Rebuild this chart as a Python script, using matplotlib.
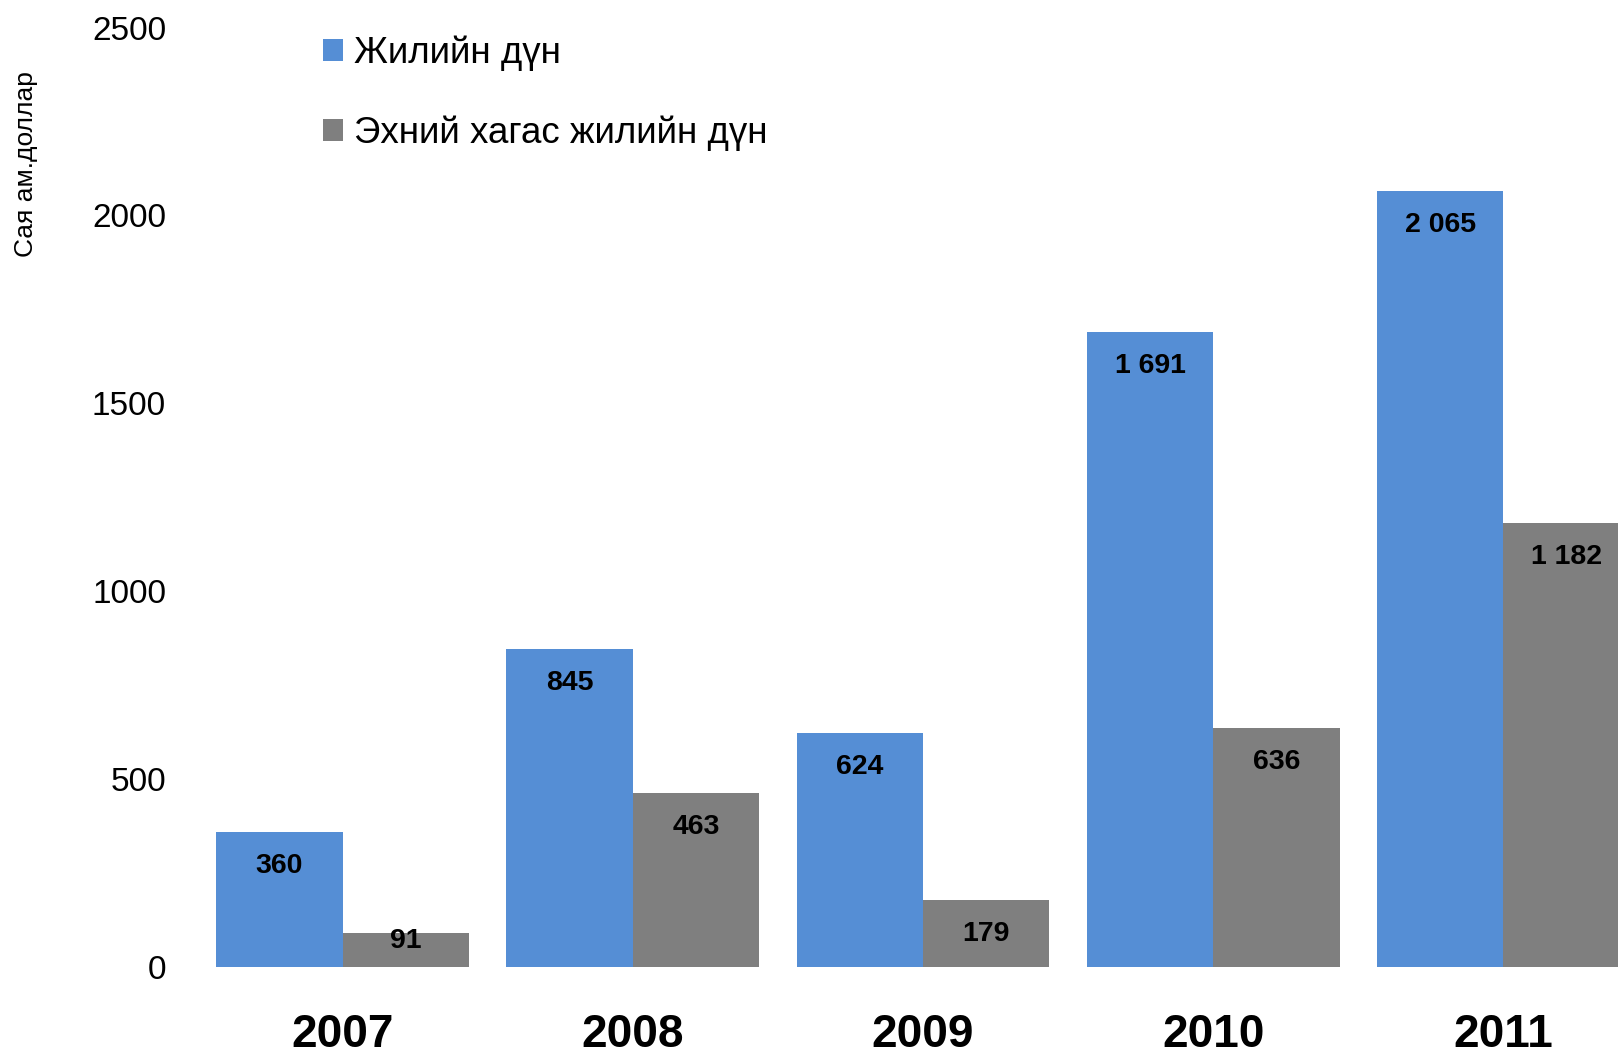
import matplotlib
matplotlib.use("Agg")
import matplotlib.pyplot as plt
from matplotlib import font_manager as fm
import numpy as np

# ---- data ----
years = ["2007", "2008", "2009", "2010", "2011"]
annual = [360, 845, 624, 1691, 2065]
first_half = [91, 463, 179, 636, 1182]
series_names = ["Жилийн дүн", "Эхний хагас жилийн дүн"]
yticks = [0, 500, 1000, 1500, 2000, 2500]
ylabel = "Сая ам.доллар"

def fmt(v):
    return f"{v:,}".replace(",", " ")

names = {f.name for f in fm.fontManager.ttflist}
fam = "Liberation Sans Narrow" if "Liberation Sans Narrow" in names else "Liberation Sans"
plt.rcParams["font.family"] = [fam, "DejaVu Sans"]

W, H = 1618, 1055
fig = plt.figure(figsize=(W / 100, H / 100), dpi=100)

left_px, right_px = 180, 1618
bottom_px, top_px = 967, 27.5
ax = fig.add_axes([left_px / W, 1 - bottom_px / H, (right_px - left_px) / W, (bottom_px - top_px) / H])

group_px = 290.2
center0_px = 342.6
bw = 126.4 / group_px
x = np.arange(len(years))

blue = "#558ED5"
grey = "#7F7F7F"
b1 = ax.bar(x - bw / 2, annual, bw, color=blue, label=series_names[0], zorder=2)
b2 = ax.bar(x + bw / 2, first_half, bw, color=grey, label=series_names[1], zorder=2)

ax.set_xlim((left_px - center0_px) / group_px, (right_px - center0_px) / group_px)
ax.set_ylim(0, 2500)
ax.set_yticks(yticks)
ax.set_yticklabels([str(t) for t in yticks], fontsize=24)
ax.set_xticks(x)
ax.set_xticklabels(years, fontsize=33, fontweight="bold")
ax.tick_params(axis="y", length=0, pad=10)
ax.tick_params(axis="x", length=0, pad=33)
for s in ax.spines.values():
    s.set_visible(False)

px_per_unit = (bottom_px - top_px) / 2500
for bars, vals in ((b1, annual), (b2, first_half)):
    for rect, v in zip(bars, vals):
        bar_px = v * px_per_unit
        off = 34 if bar_px > 60 else bar_px * 0.25
        ax.annotate(fmt(v), (rect.get_x() + rect.get_width() / 2, v),
                    xytext=(0, -off * 0.72), textcoords="offset points",
                    ha="center", va="center", fontsize=20.5, fontweight="bold",
                    color="black", zorder=3, annotation_clip=False)

fs_leg = 26.5
fig.legend(handles=[b1, b2], labels=series_names, loc="upper left",
           bbox_to_anchor=(323 / W, 1 - 35.5 / H), frameon=False, fontsize=fs_leg,
           handlelength=0.54, handleheight=0.54, handletextpad=0.31,
           labelspacing=1.21, borderaxespad=0, borderpad=0)

fig.text(26 / W, 1 - 164 / H, ylabel, rotation=90, ha="center", va="center", fontsize=19)

fig.savefig("out.png", dpi=100)
